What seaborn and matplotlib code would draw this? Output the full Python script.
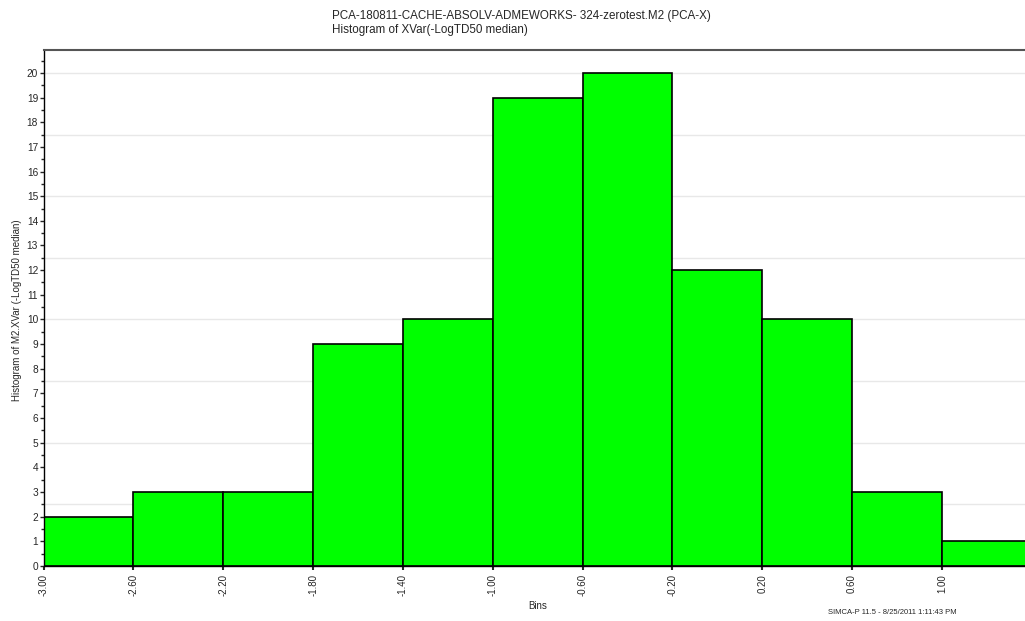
import numpy as np
import pandas as pd
import matplotlib
matplotlib.use('Agg')
import matplotlib.pyplot as plt
import seaborn as sns
from matplotlib.ticker import MultipleLocator

# histogram counts
bin_edges = [-3.00, -2.60, -2.20, -1.80, -1.40, -1.00, -0.60, -0.20, 0.20, 0.60, 1.00, 1.40]
counts = [2, 3, 3, 9, 10, 19, 20, 12, 10, 3, 1]
tick_labels = ['-3.00', '-2.60', '-2.20', '-1.80', '-1.40', '-1.00',
               '-0.60', '-0.20', '0.20', '0.60', '1.00']

title_lines = ['PCA-180811-CACHE-ABSOLV-ADMEWORKS- 324-zerotest.M2 (PCA-X)',
               'Histogram of XVar(-LogTD50 median)']

sns.set_style('white')
plt.rcParams['font.family'] = ['Liberation Sans', 'DejaVu Sans']

centers = [(bin_edges[i] + bin_edges[i + 1]) / 2 for i in range(len(counts))]
df = pd.DataFrame({'x': centers, 'n': counts})

fig = plt.figure(figsize=(10.25, 6.21), dpi=100)
ax = fig.add_axes([0.0426, 0.0886, 0.9574, 0.8309])

sns.histplot(data=df, x='x', weights='n', bins=bin_edges, ax=ax,
             color='#00ff00', alpha=1, edgecolor='black', linewidth=1.2)

ax.set_xlim(-3.0, 1.37)
ax.set_ylim(0, 20.93)

# light horizontal grid every 2.5
for g in np.arange(2.5, 21, 2.5):
    ax.axhline(g, color='#e8e8e8', lw=1, zorder=0)
ax.set_axisbelow(True)

ax.yaxis.set_major_locator(MultipleLocator(1))
ax.yaxis.set_minor_locator(MultipleLocator(0.5))
ax.set_xticks(bin_edges[:-1])
ax.set_xticklabels(tick_labels, rotation=90, fontsize=7)
ax.tick_params(axis='y', which='major', direction='out', length=3, width=1, labelsize=7.3, pad=1)
ax.tick_params(axis='y', which='minor', direction='out', length=2, width=1)
ax.tick_params(axis='x', which='major', direction='out', length=3, width=1.5, pad=3)
ax.tick_params(left=True, bottom=True, which='both')

ax.set_xlabel('')
ax.set_ylabel('')
for side in ['left', 'bottom']:
    ax.spines[side].set_color('black')
    ax.spines[side].set_linewidth(1)
ax.spines['top'].set_color('#555555')
ax.spines['top'].set_linewidth(1.5)
ax.spines['right'].set_visible(False)

fig.text(0.324, 0.975, title_lines[0], fontsize=8.4, va='center', ha='left')
fig.text(0.324, 0.951, title_lines[1], fontsize=8.4, va='center', ha='left')
fig.text(0.017, 0.5, 'Histogram of M2.XVar (-LogTD50 median)', rotation=90,
         fontsize=7, va='center', ha='center')
fig.text(0.525, 0.024, 'Bins', fontsize=7, va='center', ha='center')
fig.text(0.808, 0.014, 'SIMCA-P 11.5 - 8/25/2011 1:11:43 PM', fontsize=5.5,
         va='center', ha='left')

fig.savefig('out.png', dpi=100)
